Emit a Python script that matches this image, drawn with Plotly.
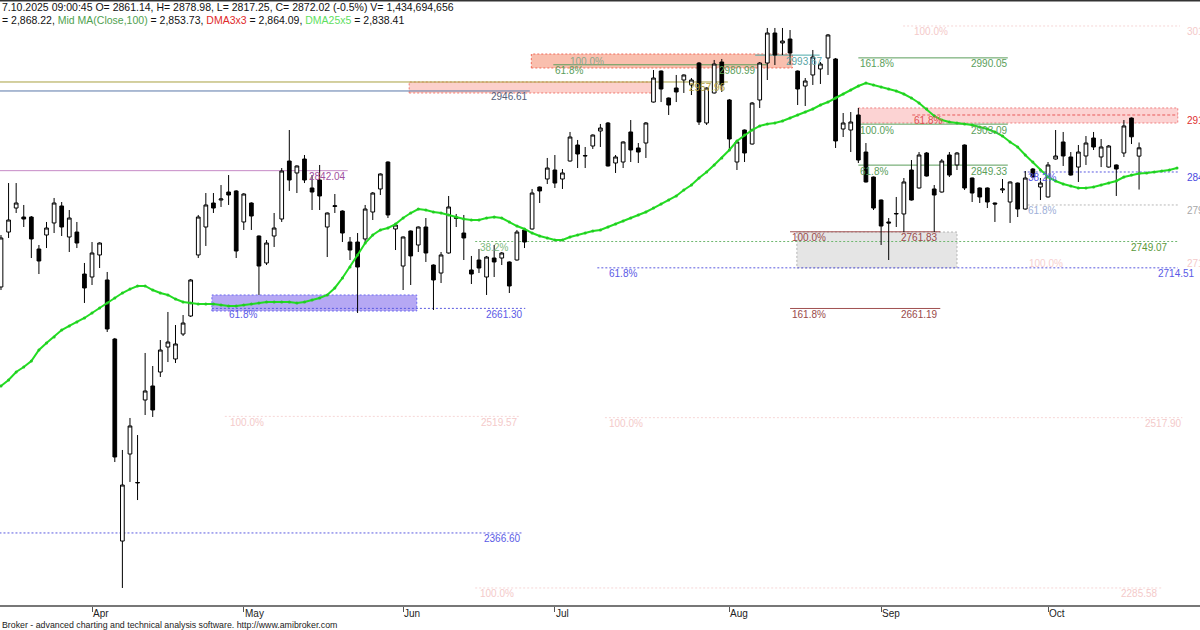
import plotly.graph_objects as go

# ---------------- data (bar index 0..150, last bar = 17.10.2025) ----------------
opens = [2689.4, 2761.5, 2793.0, 2781.2, 2781.2, 2739.2, 2757.6, 2773.4, 2795.7, 2755.0,
         2761.5, 2706.4, 2702.5, 2731.4, 2698.6, 2621.1, 2356.0, 2470.2, 2432.2, 2541.1,
         2559.5, 2577.8, 2610.6, 2594.9, 2627.7, 2651.3, 2731.4, 2768.1, 2799.6, 2803.5,
         2814.0, 2815.4, 2774.7, 2799.6, 2756.3, 2720.9, 2756.3, 2778.6, 2854.7, 2839.0,
         2857.3, 2819.3, 2829.8, 2768.1, 2795.0, 2789.1, 2748.4, 2748.4, 2752.4, 2787.8,
         2818.0, 2853.4, 2765.5, 2716.9, 2762.9, 2744.5, 2768.1, 2718.2, 2707.7, 2734.0,
         2780.4, 2760.2, 2711.7, 2724.8, 2702.5, 2727.4, 2727.4, 2722.2, 2724.8, 2764.2,
         2765.5, 2820.6, 2831.1, 2842.9, 2831.1, 2854.7, 2875.7, 2861.3, 2874.4, 2894.1,
         2904.6, 2852.1, 2853.4, 2892.8, 2871.8, 2878.3, 2932.1, 2972.8, 2937.4, 2950.5,
         2961.0, 2954.5, 2983.3, 2904.6, 2944.0, 2984.6, 2934.8, 2853.4, 2895.4, 2877.0,
         2934.8, 2983.3, 3022.7, 3009.6, 3014.8, 2972.8, 2953.1, 2967.6, 2975.5, 2989.9,
         2988.6, 2896.7, 2895.4, 2915.1, 2866.5, 2833.7, 2803.5, 2774.7, 2785.2, 2785.2,
         2842.9, 2819.3, 2865.2, 2818.0, 2814.0, 2862.6, 2849.5, 2875.7, 2832.4, 2819.3,
         2819.3, 2799.6, 2816.7, 2800.9, 2825.8, 2791.7, 2844.2, 2820.6, 2807.5, 2857.3,
         2879.7, 2860.0, 2846.8, 2861.3, 2884.9, 2860.0, 2846.8, 2849.5, 2865.2, 2911.1,
         2861.14]
highs = [2757.6, 2825.8, 2825.8, 2797.0, 2782.5, 2744.5, 2774.7, 2806.2, 2800.9, 2790.4,
         2774.7, 2720.9, 2748.4, 2748.0, 2709.1, 2622.5, 2475.5, 2517.5, 2495.1, 2602.8,
         2585.7, 2619.8, 2656.6, 2639.5, 2652.6, 2699.9, 2783.9, 2812.7, 2812.7, 2823.2,
         2836.3, 2816.5, 2812.5, 2800.5, 2757.0, 2751.0, 2786.5, 2845.5, 2895.4, 2849.0,
         2862.6, 2836.3, 2849.5, 2787.2, 2811.4, 2790.0, 2755.0, 2760.2, 2797.0, 2814.0,
         2838.5, 2854.2, 2771.5, 2755.7, 2763.6, 2768.8, 2779.9, 2719.0, 2735.3, 2808.8,
         2785.2, 2783.9, 2730.1, 2739.2, 2730.1, 2744.5, 2735.3, 2723.0, 2764.2, 2765.0,
         2818.0, 2821.3, 2858.7, 2862.6, 2844.2, 2892.8, 2882.3, 2873.1, 2889.6, 2903.3,
         2905.9, 2862.6, 2880.5, 2908.5, 2878.3, 2905.9, 2974.1, 2973.5, 2938.0, 2967.6,
         2968.3, 2963.6, 2984.6, 2951.2, 2987.3, 2988.6, 2936.1, 2880.5, 2896.0, 2932.1,
         2984.6, 3029.3, 3029.3, 3029.3, 3026.6, 2973.5, 2963.6, 3000.4, 2984.6, 3021.4,
         2989.9, 2917.7, 2919.0, 2924.3, 2878.3, 2834.3, 2804.2, 2779.9, 2807.5, 2832.4,
         2856.0, 2866.5, 2866.5, 2823.2, 2857.3, 2866.5, 2866.5, 2876.4, 2833.0, 2820.0,
         2820.0, 2800.2, 2831.1, 2828.0, 2826.5, 2841.6, 2845.5, 2832.4, 2853.4, 2895.4,
         2892.8, 2866.5, 2875.7, 2887.5, 2892.8, 2883.6, 2875.7, 2850.2, 2908.5, 2911.8,
         2878.98]
lows = [2685.4, 2753.7, 2786.5, 2768.1, 2727.4, 2706.4, 2740.5, 2760.2, 2756.3, 2735.3,
        2740.5, 2668.4, 2692.0, 2714.3, 2630.3, 2459.7, 2294.4, 2433.5, 2409.8, 2521.4,
        2518.8, 2571.3, 2590.9, 2589.6, 2625.1, 2650.0, 2727.4, 2743.2, 2786.5, 2794.4,
        2797.0, 2727.4, 2764.2, 2764.2, 2678.9, 2718.2, 2741.9, 2774.7, 2815.4, 2812.7,
        2825.8, 2790.4, 2790.4, 2728.7, 2786.5, 2748.4, 2724.8, 2655.3, 2748.4, 2777.3,
        2810.1, 2779.9, 2737.9, 2685.4, 2692.0, 2735.3, 2722.2, 2659.2, 2694.6, 2733.2,
        2768.1, 2724.8, 2693.3, 2707.7, 2678.9, 2702.5, 2718.2, 2681.5, 2724.0, 2740.5,
        2764.8, 2799.6, 2824.5, 2819.3, 2818.0, 2854.0, 2845.5, 2845.5, 2870.5, 2873.1,
        2847.5, 2839.0, 2845.5, 2853.4, 2852.1, 2858.7, 2931.5, 2932.1, 2915.1, 2932.1,
        2944.0, 2941.3, 2902.0, 2902.0, 2943.3, 2945.3, 2869.2, 2842.9, 2853.4, 2876.3,
        2924.3, 2961.0, 2980.7, 2993.8, 2980.7, 2928.2, 2926.9, 2954.5, 2955.8, 2967.6,
        2871.8, 2886.2, 2866.5, 2852.1, 2826.5, 2790.4, 2744.5, 2724.8, 2768.1, 2761.5,
        2802.8, 2818.6, 2834.3, 2761.5, 2813.3, 2833.7, 2842.9, 2816.7, 2800.9, 2799.6,
        2793.0, 2774.7, 2812.7, 2773.4, 2781.2, 2791.0, 2833.0, 2803.5, 2806.8, 2856.6,
        2848.2, 2835.6, 2827.2, 2849.5, 2869.2, 2846.8, 2846.0, 2808.8, 2860.0, 2877.0,
        2817.25]
closes = [2753.7, 2777.3, 2799.6, 2778.6, 2752.4, 2723.5, 2766.8, 2799.6, 2768.1, 2779.9,
          2747.1, 2688.1, 2734.0, 2747.1, 2634.3, 2466.3, 2429.5, 2507.0, 2432.8, 2552.9,
          2528.0, 2606.7, 2617.2, 2614.6, 2642.1, 2698.6, 2781.2, 2797.0, 2793.0, 2804.9,
          2810.1, 2736.6, 2811.4, 2782.5, 2716.9, 2747.1, 2766.8, 2841.6, 2829.8, 2848.2,
          2829.8, 2814.0, 2808.8, 2786.5, 2796.0, 2760.2, 2737.9, 2715.6, 2791.7, 2812.7,
          2837.7, 2783.9, 2770.7, 2755.0, 2730.1, 2768.1, 2734.0, 2698.6, 2731.4, 2794.4,
          2779.6, 2753.7, 2706.4, 2714.3, 2728.7, 2722.2, 2734.0, 2690.7, 2761.5, 2748.4,
          2812.7, 2815.4, 2845.5, 2825.8, 2839.0, 2886.2, 2863.9, 2861.8, 2888.8, 2898.0,
          2848.2, 2860.0, 2879.7, 2869.2, 2866.5, 2904.6, 2963.6, 2949.2, 2928.2, 2945.3,
          2967.6, 2961.0, 2905.9, 2950.5, 2982.0, 2954.5, 2883.6, 2879.7, 2865.2, 2930.8,
          2983.3, 3022.7, 2993.8, 3012.2, 2996.4, 2949.2, 2959.7, 2991.2, 2982.0, 3020.1,
          2881.0, 2904.6, 2905.9, 2856.0, 2827.2, 2793.0, 2769.4, 2773.4, 2785.8, 2827.2,
          2803.5, 2862.6, 2835.0, 2810.1, 2854.7, 2836.3, 2865.2, 2819.3, 2812.7, 2807.5,
          2800.9, 2798.3, 2818.0, 2827.2, 2791.7, 2832.4, 2833.7, 2825.8, 2849.5, 2861.3,
          2861.3, 2836.3, 2866.5, 2878.3, 2873.1, 2873.1, 2874.4, 2844.2, 2900.7, 2886.45,
          2872.02]
# DMA25x5: 25-bar average displaced 5 bars forward (5 points beyond the last bar)
dma25x5 = [2559.5, 2567.3, 2577.8, 2584.4, 2592.3, 2606.7, 2615.9, 2623.8, 2632.9, 2638.2,
           2643.4, 2648.7, 2655.3, 2661.8, 2668.4, 2674.9, 2681.5, 2686.7, 2690.7, 2690.7,
           2685.4, 2681.5, 2678.9, 2673.6, 2669.7, 2668.4, 2667.1, 2667.1, 2667.1, 2665.7,
           2664.4, 2664.4, 2665.7, 2667.1, 2668.4, 2669.7, 2669.7, 2669.7, 2669.7, 2668.4,
           2669.7, 2672.3, 2674.9, 2678.9, 2688.1, 2701.2, 2715.6, 2731.4, 2747.1, 2757.6,
           2764.2, 2766.8, 2772.0, 2779.9, 2786.5, 2791.7, 2790.4, 2787.8, 2786.5, 2783.9,
           2781.2, 2778.6, 2777.3, 2777.3, 2779.9, 2781.2, 2779.9, 2774.7, 2769.4, 2765.5,
           2760.2, 2756.3, 2753.7, 2751.0, 2751.0, 2755.0, 2757.6, 2760.2, 2762.9, 2764.2,
           2768.1, 2772.0, 2776.0, 2779.9, 2783.9, 2787.8, 2793.0, 2798.3, 2803.5, 2808.8,
           2816.7, 2823.2, 2832.4, 2840.3, 2849.5, 2858.7, 2869.2, 2881.0, 2888.8, 2895.4,
           2900.7, 2903.3, 2904.6, 2907.2, 2911.1, 2915.1, 2919.0, 2923.0, 2928.2, 2932.1,
           2937.4, 2942.6, 2947.9, 2953.1, 2957.1, 2954.5, 2951.8, 2949.2, 2946.6, 2942.6,
           2937.4, 2930.8, 2922.9, 2913.8, 2908.5, 2905.9, 2904.6, 2903.3, 2902.0, 2899.3,
           2896.7, 2892.8, 2887.5, 2879.7, 2873.1, 2862.6, 2853.4, 2842.9, 2833.7, 2828.5,
           2824.5, 2821.9, 2819.3, 2819.3, 2820.6, 2823.2, 2825.8, 2828.5, 2833.7, 2836.3,
           2838.41, 2839.0, 2840.3, 2841.6, 2842.9, 2845.5]

month_labels = ["Apr", "May", "Jun", "Jul", "Aug", "Sep", "Oct"]
month_first_bar = [12, 32, 53, 73, 96, 116, 138]

# zones: (bar from, bar to, price low, price high)
zone_bars = [(69.9, 104.3), (53.8, 86.2), (113.0, 155.1), (27.8, 54.8), (104.9, 126.0)]
zone_prices = [(2976.8, 2995.1), (2944.0, 2958.4), (2904.6, 2924.3), (2657.9, 2678.9), (2714.3, 2761.5)]
zone_fill = ["#f9bfae", "#fcd0cb", "#fcd3d3", "#b6a8f4", "#e5e5e5"]
zone_line = ["#f06a5a", "#f07a70", "#f08080", "#6a6af0", "#b4b4b4"]

# study levels (prices) and their bar extents
level_price = [2958.40, 2946.61, 2842.04, 2366.60, 2661.30, 2993.67, 2980.99, 2990.05,
               2903.09, 2849.33, 2761.83, 2661.19, 2749.07, 2714.51, 2840.30, 2797.00,
               2915.10, 2519.57, 2517.90, 2294.40, 3031.90]
level_bars = [(-0.2, 95.8), (-0.2, 69.7), (-0.2, 45.7), (-0.2, 68.8), (27.8, 69.1),
              (99.4, 107.9), (72.8, 101.0), (113.0, 132.7), (113.0, 132.7), (113.0, 132.7),
              (104.0, 123.8), (104.0, 123.8), (62.5, 155.1), (78.6, 155.1), (134.8, 155.1),
              (134.8, 155.1), (120.1, 155.1), (29.5, 68.4), (79.6, 155.7), (62.5, 153.0),
              (118.9, 155.4)]
level_color = ["#a8a040", "#5a78a8", "#c68ac6", "#5a5ae0", "#5a5ae0", "#4aa8a8", "#5a9e5a",
               "#5a9e5a", "#5a9e5a", "#5a9e5a", "#a05050", "#a05050", "#70b870", "#5a5ae0",
               "#5a5ae0", "#b8b8b8", "#e85a5a", "#f6d6d6", "#f6d6d6", "#f6d6d6", "#f6d6d6"]
level_dash = ["solid", "solid", "solid", "2px,2px", "2px,2px", "solid", "solid", "solid",
              "solid", "solid", "solid", "solid", "2px,2px", "2px,2px", "2px,2px", "2px,2px",
              "3px,2px", "2px,2px", "2px,2px", "2px,2px", "2px,2px"]

# text labels: (bar, price, text, color, anchor)
labels = [
    (69.7, 2946.61, "2946.61", "#55607a", "right"),
    (95.8, 2958.40, "2957.96", "#b0a040", "right"),
    (45.7, 2842.04, "2842.04", "#a050a0", "right"),
    (29.8, 2661.30, "61.8%", "#5a5ae6", "left"),
    (69.1, 2661.30, "2661.30", "#5a5ae6", "right"),
    (68.8, 2366.60, "2366.60", "#5a5ae6", "right"),
    (62.9, 2749.07, "38.2%", "#80bb80", "left"),
    (154.1, 2749.07, "2749.07", "#5a9a3a", "right"),
    (79.9, 2714.51, "61.8%", "#5a5ae6", "left"),
    (157.6, 2714.51, "2714.51", "#5a5ae6", "right"),
    (104.0, 2761.83, "100.0%", "#9a4a4a", "left"),
    (123.8, 2761.83, "2761.83", "#9a4a4a", "right"),
    (104.0, 2661.19, "161.8%", "#9a4a4a", "left"),
    (123.8, 2661.19, "2661.19", "#9a4a4a", "right"),
    (113.0, 2903.09, "100.0%", "#5a9e5a", "left"),
    (133.0, 2903.09, "2903.09", "#5a9e5a", "right"),
    (113.0, 2849.33, "61.8%", "#5a9e5a", "left"),
    (133.0, 2849.33, "2849.33", "#5a9e5a", "right"),
    (113.0, 2990.05, "161.8%", "#5a9e5a", "left"),
    (133.0, 2990.05, "2990.05", "#5a9e5a", "right"),
    (120.1, 2915.10, "61.8%", "#e05050", "left"),
    (135.1, 2840.30, "38.2%", "#5a5ae6", "left"),
    (135.1, 2797.00, "61.8%", "#a0b0d8", "left"),
    (135.2, 2728.70, "100.0%", "#f6d0d0", "left"),
    (74.7, 2993.67, "100.0%", "#8aa88a", "left"),
    (72.8, 2980.99, "61.8%", "#5a9e5a", "left"),
    (99.8, 2980.99, "2980.99", "#5a9e5a", "right"),
    (108.6, 2993.67, "2993.67", "#5aa5a5", "right"),
    (29.9, 2519.57, "100.0%", "#f4caca", "left"),
    (68.4, 2519.57, "2519.57", "#f4caca", "right"),
    (79.9, 2517.90, "100.0%", "#f4caca", "left"),
    (155.9, 2517.90, "2517.90", "#f4caca", "right"),
    (62.9, 2294.40, "100.0%", "#f4caca", "left"),
    (152.8, 2294.40, "2285.58", "#f4caca", "right"),
    (120.1, 3031.90, "100.0%", "#f4caca", "left"),
    (156.1, 2915.10, "2915.10", "#e03030", "left"),
    (156.1, 2840.30, "2840.30", "#4a4ae0", "left"),
    (156.1, 2797.00, "2797.00", "#a8a8a8", "left"),
    (156.1, 2728.70, "2718.70", "#f4caca", "left"),
    (156.1, 3031.90, "3018.00", "#f4caca", "left"),
]

FONT = "Liberation Sans, Arial, sans-serif"
PLOT_H = 606.0


def py(pixel):
    return 1 - pixel / PLOT_H


fig = go.Figure()

fig.add_trace(go.Candlestick(
    x=list(range(len(opens))), open=opens, high=highs, low=lows, close=closes,
    increasing=dict(line=dict(color="#000000", width=1), fillcolor="#ffffff"),
    decreasing=dict(line=dict(color="#000000", width=1), fillcolor="#000000"),
    whiskerwidth=0, hoverinfo="skip", name="Price"))

fig.add_trace(go.Scatter(
    x=list(range(len(dma25x5))), y=dma25x5, mode="lines+markers",
    line=dict(color="#22dd22", width=2), marker=dict(size=3, color="#22cc22"),
    hoverinfo="skip", name="DMA25x5"))

shapes = []
for (b0, b1), (p0, p1), fc, lc in zip(zone_bars, zone_prices, zone_fill, zone_line):
    shapes.append(dict(type="rect", xref="x", yref="y", x0=b0, x1=b1, y0=p0, y1=p1,
                       fillcolor=fc, line=dict(color=lc, width=1, dash="2px,2px"), layer="below"))
for p, (b0, b1), c, d in zip(level_price, level_bars, level_color, level_dash):
    shapes.append(dict(type="line", xref="x", yref="y", x0=b0, x1=b1, y0=p, y1=p,
                       line=dict(color=c, width=1, dash=d), layer="below"))
# frame lines
shapes.append(dict(type="line", xref="paper", yref="paper", x0=0, x1=1, y0=0, y1=0,
                   line=dict(color="#4a4a4a", width=1.5)))
shapes.append(dict(type="line", xref="paper", yref="paper", x0=0, x1=1, y0=1, y1=1,
                   line=dict(color="#333333", width=3)))

annotations = []
for b, p, t, c, a in labels:
    annotations.append(dict(x=b, y=p, xref="x", yref="y", text=t, showarrow=False,
                            xanchor=a, yanchor="middle", yshift=-6,
                            font=dict(family=FONT, size=10, color=c)))
for b, m in zip(month_first_bar, month_labels):
    annotations.append(dict(x=b, y=py(613), xref="x", yref="paper", text=m, showarrow=False,
                            xanchor="left", yanchor="middle", xshift=-1,
                            font=dict(family=FONT, size=10, color="#222222")))

annotations.append(dict(
    x=0, y=py(6.5), xref="paper", yref="paper", xanchor="left", yanchor="middle", showarrow=False,
    text="7.10.2025 09:00:45 O= 2861.14, H= 2878.98, L= 2817.25, C= 2872.02 (-0.5%) V= 1,434,694,656",
    font=dict(family=FONT, size=10.5, color="#111111")))
annotations.append(dict(
    x=0, y=py(19.5), xref="paper", yref="paper", xanchor="left", yanchor="middle", showarrow=False,
    text=("= 2,868.22, <span style='color:#4f9f4f'>Mid MA(Close,100)</span> = 2,853.73, "
          "<span style='color:#e02a2a'>DMA3x3</span> = 2,864.09, "
          "<span style='color:#5fe05f'>DMA25x5</span> = 2,838.41"),
    font=dict(family=FONT, size=10.5, color="#111111")))
annotations.append(dict(
    x=0, y=py(624.5), xref="paper", yref="paper", xanchor="left", yanchor="middle", showarrow=False,
    text="Broker - advanced charting and technical analysis software. http://www.amibroker.com",
    font=dict(family=FONT, size=8.8, color="#222222")))

fig.update_layout(
    width=1200, height=630,
    margin=dict(l=0, r=0, t=0, b=24),
    paper_bgcolor="white", plot_bgcolor="white",
    showlegend=False, hovermode=False,
    shapes=shapes, annotations=annotations,
    xaxis=dict(range=[-0.13, 158.03], showgrid=False, zeroline=False, showticklabels=False,
               ticks="outside", ticklen=5, tickcolor="#555555", tickvals=month_first_bar,
               showline=False, rangeslider=dict(visible=False), fixedrange=True),
    yaxis=dict(range=[2270.75, 3066.0], showgrid=False, zeroline=False, showticklabels=False,
               ticks="", showline=False, fixedrange=True),
)

fig.write_html("out.html", config={"displayModeBar": False},
               post_script="document.body.style.margin='0px';document.body.style.overflow='hidden';")
